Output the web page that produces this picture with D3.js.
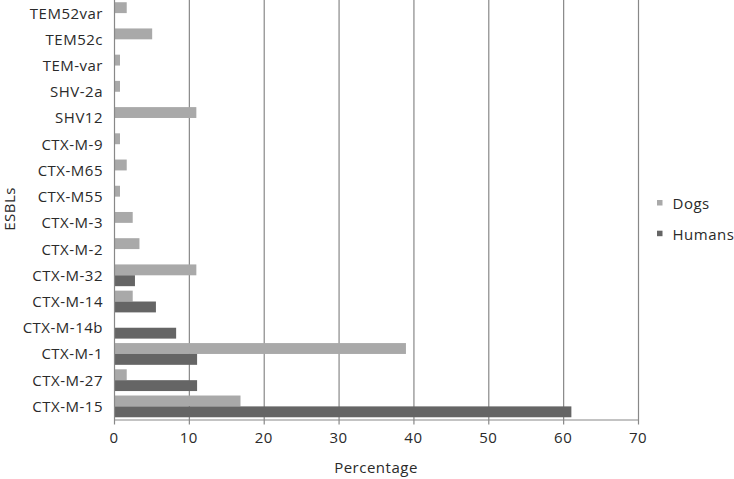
<!DOCTYPE html>
<html><head><meta charset="utf-8">
<script src="https://cdn.jsdelivr.net/npm/d3@7"></script>
<style>body{margin:0;background:#fff}svg{display:block}text{font-family:"Open Sans",sans-serif;fill:#2a2a2a;letter-spacing:0.5px}</style>
</head><body><svg id="c" width="734" height="479"></svg>
<script>
const categories = ["TEM52var","TEM52c","TEM-var","SHV-2a","SHV12","CTX-M-9","CTX-M65","CTX-M55","CTX-M-3","CTX-M-2","CTX-M-32","CTX-M-14","CTX-M-14b","CTX-M-1","CTX-M-27","CTX-M-15"];
const dogs =   [1.7, 5.1, 0.8, 0.8, 11.0, 0.8, 1.7, 0.8, 2.5, 3.4, 11.0, 2.5, 0, 39.0, 1.7, 16.9];
const humans = [0,   0,   0,   0,   0,    0,   0,   0,   0,   0,   2.8,  5.6, 8.3, 11.1, 11.1, 61.1];
const seriesNames = ["Dogs","Humans"];
const xTicks = [0,10,20,30,40,50,60,70];
const colors = {Dogs:"#a9a9a9", Humans:"#656565"};

const svg = d3.select("#c");
const L = 114, R = 638, T = 0, B = 419.5;
const x = d3.scaleLinear().domain([0,70]).range([L,R]);
const y = d3.scaleBand().domain(categories).range([T,B]).paddingInner(0).paddingOuter(0);
const sub = d3.scaleBand().domain(seriesNames).range([0,y.bandwidth()]).paddingInner(0).paddingOuter(0.205);

// gridlines
svg.append("g").selectAll("line").data(xTicks.slice(1)).join("line")
  .attr("x1",d=>x(d)+0.5).attr("x2",d=>x(d)+0.5).attr("y1",T).attr("y2",B+5)
  .attr("stroke","#888").attr("stroke-width",1.2);

// bars
const rows = categories.map((c,i)=>({c, Dogs:dogs[i], Humans:humans[i]}));
const g = svg.append("g");
seriesNames.forEach(s=>{
  g.selectAll(null).data(rows.filter(r=>r[s]>0)).join("rect")
   .attr("x",x(0)).attr("y",r=>y(r.c)+sub(s)).attr("width",r=>x(r[s])-x(0))
   .attr("height",sub.bandwidth()).attr("fill",colors[s]);
});

// axes lines
svg.append("line").attr("x1",L+0.5).attr("x2",L+0.5).attr("y1",T).attr("y2",B+5).attr("stroke","#888").attr("stroke-width",1.2);
svg.append("line").attr("x1",L).attr("x2",R+1).attr("y1",B+0.5).attr("y2",B+0.5).attr("stroke","#888").attr("stroke-width",1.2);

// x tick labels
svg.append("g").selectAll("text").data(xTicks).join("text")
  .attr("x",d=>x(d)).attr("y",442.5).attr("text-anchor","middle").attr("font-size",15).text(d=>d);
// y labels
svg.append("g").selectAll("text").data(categories).join("text")
  .attr("x",103).attr("y",d=>y(d)+y.bandwidth()/2+5.5).attr("text-anchor","end").attr("font-size",15).text(d=>d);

svg.append("text").attr("x",376).attr("y",472.5).attr("text-anchor","middle").attr("font-size",15).text("Percentage");
svg.append("text").attr("transform","translate(15,209) rotate(-90)").attr("text-anchor","middle").attr("font-size",15).text("ESBLs");

// legend
const lg = svg.append("g").selectAll("g").data(seriesNames).join("g")
  .attr("transform",(d,i)=>`translate(657,${200+i*30.7})`);
lg.append("rect").attr("width",5.5).attr("height",5.5).attr("fill",d=>colors[d]);
lg.append("text").attr("x",15.5).attr("y",9).attr("font-size",15).text(d=>d);
</script></body></html>
